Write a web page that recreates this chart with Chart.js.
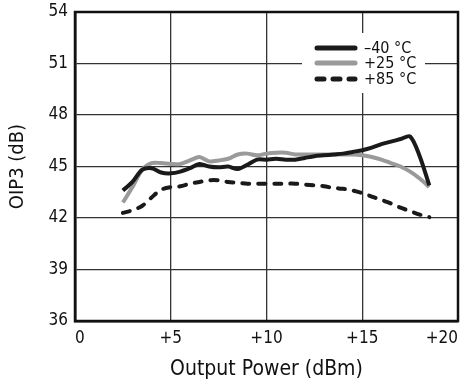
<!DOCTYPE html>
<html>
<head>
<meta charset="utf-8">
<script src="https://cdn.jsdelivr.net/npm/chart.js@4/dist/chart.umd.min.js"></script>
<style>
  html, body { margin: 0; padding: 0; background: #fff; }
  canvas { display: block; }
</style>
</head>
<body>
<canvas id="c" width="467" height="385"></canvas>
<script>
// ---- data ----
const outputPower = [2.5,3,3.5,4,4.5,5,5.5,6,6.5,7,7.5,8,8.5,9,9.5,10,10.5,11,11.5,12,12.5,13,13.5,14,14.5,15,15.5,16,16.5,17,17.5,18,18.5];
const oip3Minus40 = [43.6,44.1,44.8,44.9,44.65,44.6,44.7,44.9,45.15,45.0,44.95,45.0,44.85,45.1,45.4,45.4,45.45,45.4,45.4,45.5,45.6,45.65,45.7,45.75,45.85,45.95,46.1,46.3,46.45,46.6,46.75,45.6,43.9];
const oip3Plus25  = [42.9,43.8,44.8,45.2,45.2,45.15,45.15,45.35,45.55,45.3,45.35,45.45,45.7,45.75,45.65,45.75,45.8,45.8,45.7,45.7,45.7,45.7,45.7,45.7,45.7,45.65,45.55,45.4,45.2,45.0,44.7,44.3,43.8];
const oip3Plus85  = [42.3,42.45,42.7,43.2,43.65,43.8,43.85,44.0,44.1,44.2,44.2,44.1,44.05,44.0,44.0,44.0,44.0,44.0,44.0,43.95,43.9,43.85,43.75,43.7,43.6,43.45,43.25,43.05,42.85,42.6,42.4,42.2,42.05];
const seriesLabels = ['\u201340 \u00B0C', '+25 \u00B0C', '+85 \u00B0C'];
const xTickValues = [0,5,10,15,20];
const yTickValues = [36,39,42,45,48,51,54];

const FONT = '"Liberation Sans Narrow", "DejaVu Sans Condensed", "Liberation Sans", sans-serif';

function toPoints(ys) { return outputPower.map((x, i) => ({ x: x, y: ys[i] })); }

const frame = {
  id: 'frame',
  beforeDatasetsDraw(chart) {
    const { ctx } = chart;
    ctx.save();
    // legend background box (hides grid lines behind the legend)
    ctx.fillStyle = '#fff';
    ctx.fillRect(302, 33, 123, 60);
    ctx.restore();
  },
  afterDatasetsDraw(chart) {
    const { ctx, chartArea: a } = chart;
    ctx.save();
    ctx.strokeStyle = '#111';
    ctx.lineWidth = 2.5;
    ctx.strokeRect(a.left, a.top, a.right - a.left, a.bottom - a.top);
    // legend
    const rows = [48, 63, 79];
    chart.data.datasets.forEach((ds, i) => {
      const y = rows[i];
      ctx.beginPath();
      ctx.strokeStyle = ds.borderColor;
      ctx.lineWidth = 5;
      ctx.lineCap = 'round';
      ctx.setLineDash(ds.borderDash && ds.borderDash.length ? [7, 9] : []);
      ctx.moveTo(317, y);
      ctx.lineTo(355, y);
      ctx.stroke();
      ctx.setLineDash([]);
      ctx.fillStyle = '#111';
      ctx.font = '16px ' + FONT;
      ctx.textBaseline = 'middle';
      ctx.textAlign = 'left';
      ctx.fillText(ds.label, 364, y + 1);
    });
    ctx.restore();
  }
};

new Chart(document.getElementById('c'), {
  type: 'line',
  data: {
    datasets: [
      { label: seriesLabels[0], data: toPoints(oip3Minus40), borderColor: '#1a1a1a', borderWidth: 4, pointRadius: 0, tension: 0.3, fill: false },
      { label: seriesLabels[1], data: toPoints(oip3Plus25), borderColor: '#9a9a9a', borderWidth: 4, pointRadius: 0, tension: 0.3, fill: false },
      { label: seriesLabels[2], data: toPoints(oip3Plus85), borderColor: '#1a1a1a', borderWidth: 4, pointRadius: 0, tension: 0.3, fill: false, borderDash: [7, 9], borderCapStyle: 'round' }
    ]
  },
  options: {
    responsive: false,
    devicePixelRatio: 1,
    animation: false,
    layout: { padding: { top: 12, right: 9, left: 0, bottom: 0 } },
    plugins: { legend: { display: false }, tooltip: { enabled: false } },
    scales: {
      x: {
        type: 'linear', min: 0, max: 20,
        afterBuildTicks: s => { s.ticks = xTickValues.map(v => ({ value: v })); },
        afterFit: s => { s.height = 64; s.paddingLeft = 0; s.paddingRight = 0; },
        grid: { color: '#333', lineWidth: 1.3, drawTicks: false },
        border: { color: '#111', width: 2.5 },
        ticks: { color: '#111', padding: 7, align: 'inner', font: { family: FONT, size: 17 }, maxRotation: 0,
                 callback: v => v === 0 ? '0' : '+' + v },
        title: { display: true, text: 'Output Power (dBm)', color: '#111', font: { family: FONT, size: 21 }, padding: { top: 0, bottom: 3 } }
      },
      y: {
        type: 'linear', min: 36, max: 54,
        afterBuildTicks: s => { s.ticks = yTickValues.map(v => ({ value: v })); },
        afterFit: s => { s.width = 75; s.paddingTop = 0; s.paddingBottom = 0; },
        grid: { color: '#333', lineWidth: 1.3, drawTicks: false },
        border: { color: '#111', width: 2.5 },
        ticks: { color: '#111', padding: 7, font: { family: FONT, size: 17 } },
        title: { display: true, text: 'OIP3 (dB)', color: '#111', font: { family: FONT, size: 20 }, padding: { top: 6, bottom: 0 } }
      }
    }
  },
  plugins: [frame]
});
</script>
</body>
</html>
